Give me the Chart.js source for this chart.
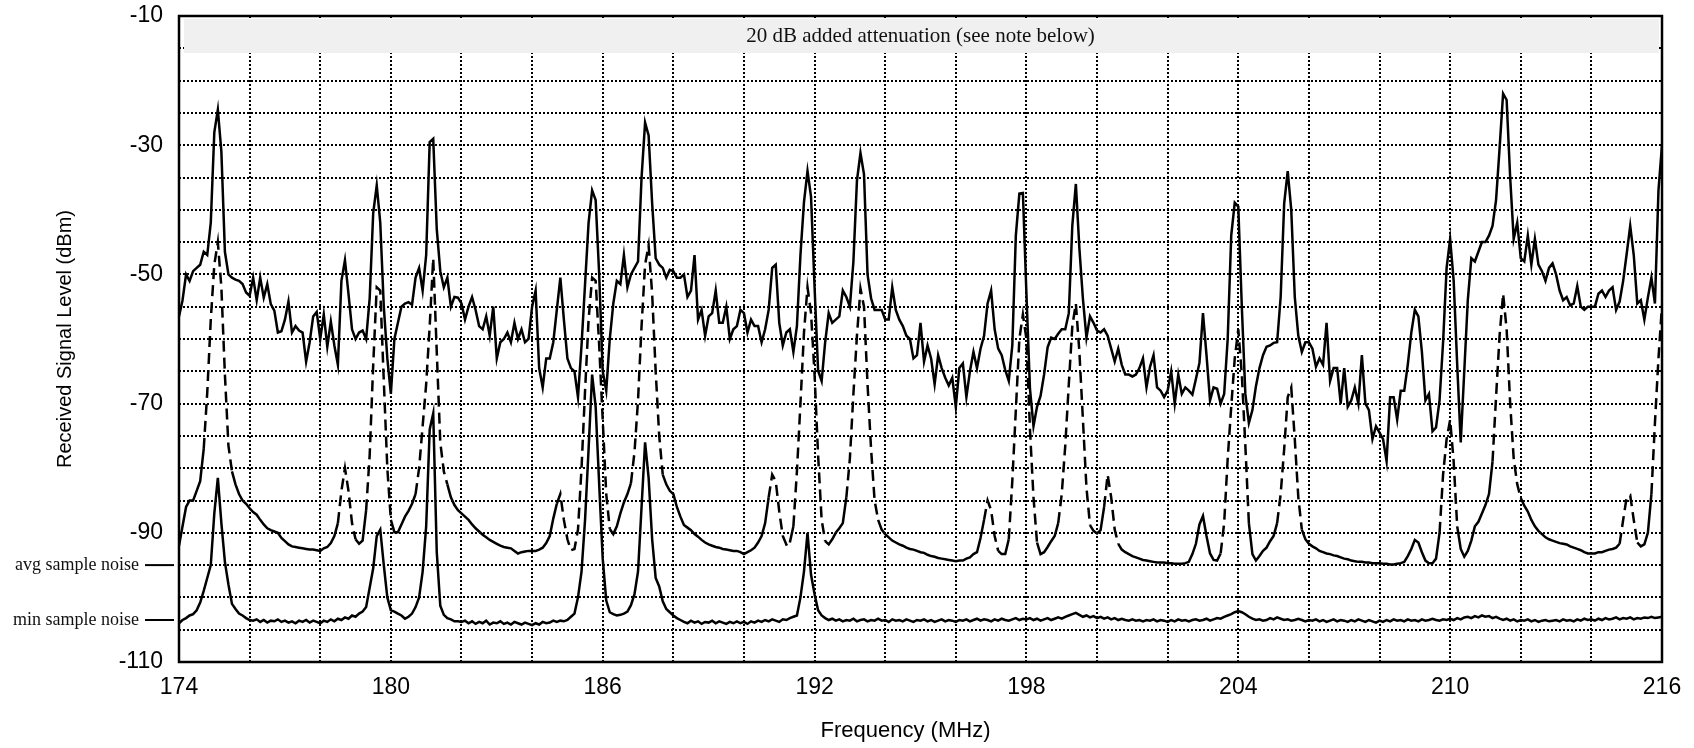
<!DOCTYPE html>
<html>
<head>
<meta charset="utf-8">
<title>Received Signal Level, 174-216 MHz</title>
<script src="https://cdn.jsdelivr.net/npm/chart.js@4.4.1/dist/chart.umd.min.js"></script>
<style>
    html, body { margin: 0; padding: 0; background: #ffffff; }
    canvas { display: block; }
</style>
</head>
<body>
<canvas id="spectrumChart" width="1694" height="748"></canvas>
<script>
/**
 * Sweep 174..216 MHz, one sample every 0.1 MHz (one row = 1 MHz)
 */
const FREQ_START = 174;
const FREQ_STEP = 0.1;

// upper trace (max hold)
const maxLevel = [
    -56.5, -54, -50, -51, -49.5, -49, -48.5, -46.5, -47, -42,
    -28, -24.5, -31, -46.5, -50, -50.5, -50.8, -51, -51.5, -52.8,
    -53.3, -50.5, -54, -50.5, -53.6, -51.5, -54.6, -55.6, -59, -58.8,
    -57, -54.2, -59, -58, -58.7, -59, -63.5, -60.5, -56.5, -55.8,
    -60, -56.2, -61.2, -57.3, -61, -64, -51, -47.8, -53, -58.5,
    -60, -59, -58.7, -60, -53.7, -40.5, -36.2, -42, -55, -63,
    -68.5, -60, -57.5, -55, -54.5, -54.3, -54.7, -50.5, -49, -52.5,
    -47, -29.5, -29, -43, -49.5, -52, -50.5, -55, -53.5, -53.6,
    -54.5, -57, -55, -53.5, -55.5, -58, -58.5, -56.5, -59.5, -55,
    -63, -60.5, -60, -59, -60.5, -57.5, -60, -58.5, -60.5, -60,
    -55, -52.5, -64.5, -67.5, -63, -63, -60.5, -55.5, -50.5, -57,
    -63, -64.5, -65, -69, -61, -51.5, -42, -37, -38.5, -50,
    -65, -68, -60, -54.5, -51, -51.5, -47, -52, -50, -49,
    -48, -35, -26.5, -28.5, -39, -47.5, -48.5, -49, -50.5, -49.3,
    -49.5, -50.5, -50.5, -50, -53.5, -52.5, -47, -57, -55.5, -59.5,
    -56.5, -56, -52.5, -57.5, -57.5, -55, -60, -58.5, -58, -55.5,
    -56, -59, -57, -58, -58, -60.5, -58.5, -55.5, -49, -48.5,
    -57.5, -61, -59, -58.5, -62, -58, -47, -38.8, -34, -38,
    -52, -64.9, -66.5, -60.5, -56, -57.5, -57, -56.5, -52.5, -53.5,
    -55, -48, -35.5, -31.2, -34.5, -50, -53.7, -55.5, -55.5, -55.5,
    -57, -57, -52, -55.5, -57, -58, -59.5, -60, -63, -62.5,
    -57.5, -63.5, -61, -63, -67, -62.5, -64.5, -66, -67.2, -66,
    -70.5, -64.5, -63.8, -69, -65, -62, -64.5, -61.5, -59.5, -54.5,
    -52.5, -58.5, -61.5, -62.5, -64.8, -66.5, -61, -44, -37.5, -37.4,
    -53, -67.7, -73.5, -70.5, -68.8, -65.5, -61.3, -59.8, -60, -59.2,
    -58.5, -58.5, -56, -42.4, -36, -46, -53.8, -59.8, -56.5, -57.5,
    -58.7, -59, -58.5, -59.5, -61.5, -63.5, -61.5, -64, -65.5, -65.5,
    -65.8, -65.5, -64.5, -63, -67.5, -64.3, -62.5, -67.5, -68, -69,
    -68, -65, -70, -65.5, -68.5, -67.5, -68, -68.6, -66.2, -63.7,
    -56, -62.5, -69.5, -67.5, -67.7, -70, -68.5, -60, -44, -38.9,
    -39.5, -55, -68.5, -73, -71, -67.3, -64.5, -62.5, -61.2, -61,
    -60.6, -60.5, -53.5, -39, -34, -40, -53.5, -59.5, -62, -60.5,
    -60.5, -61.5, -64.3, -63, -64, -57.5, -66.5, -64.5, -64.5, -70,
    -64.5, -70.5, -69.5, -67.5, -70, -62.5, -70, -71, -75.5, -73.5,
    -74.5, -75.5, -78.9, -69, -69, -72.5, -68, -68, -64, -59,
    -55.5, -56.5, -62, -69.5, -68.5, -74.3, -73.7, -69.5, -60.5, -49,
    -44.5, -51, -64, -76, -65, -54, -47.5, -48, -46.5, -45,
    -45, -44, -42.5, -38.5, -30.5, -22, -23, -35, -44.5, -42,
    -47.5, -48, -44, -48.5, -44.5, -48.5, -49.5, -51, -49, -48.3,
    -50, -52.5, -54, -53.5, -54.8, -54.5, -51.8, -55, -55.5, -55,
    -55, -55, -53, -52.5, -53.5, -52.5, -52, -55.5, -54.2, -51,
    -46.8, -42.5, -47, -54.5, -54, -57, -53.6, -50.5, -54.5, -37,
    -30
];

// middle trace (average)
const avgLevel = [
    -92, -89, -86, -85, -85, -83.5, -82, -77, -68.3, -57,
    -48.5, -45, -52, -65.5, -76.5, -80.5, -82.5, -84, -85, -85.5,
    -86.2, -86.8, -87.2, -88, -88.7, -89.3, -89.6, -89.8, -90, -90.8,
    -91.3, -91.8, -92.1, -92.2, -92.3, -92.4, -92.5, -92.6, -92.6, -92.7,
    -92.8, -92.4, -92.2, -91.6, -90.5, -88.5, -83.5, -80, -83.5, -88.5,
    -91, -91.7, -91.2, -86.5, -78, -64, -52, -52.5, -66.5, -80,
    -88, -89.9, -89.9, -88.7, -87.5, -86.6, -85.5, -84, -80, -73.5,
    -67, -58, -47.5, -62, -76, -80.5, -82.5, -84.5, -85.7, -86.5,
    -87, -87.5, -88, -88.7, -89.3, -89.8, -90.3, -90.7, -91.1, -91.4,
    -91.7, -92, -92.2, -92.3, -92.4, -92.8, -93.2, -93, -92.9, -92.8,
    -92.8, -92.8, -92.6, -92.3, -91.6, -90.5, -87.8, -85.5, -84, -88,
    -91, -92.7, -92.5, -89.5, -80, -68, -57, -50.5, -51, -61,
    -72.5, -84, -89.4, -90.2, -89, -87, -85.3, -84, -82.3, -77.5,
    -69.5, -58, -48.5, -45.5, -53, -65, -75, -81, -82.5, -83.5,
    -84, -86, -87.5, -88.8, -89.2, -89.6, -90.2, -90.6, -91.1, -91.5,
    -91.8, -92, -92.2, -92.3, -92.5, -92.6, -92.7, -92.8, -92.8, -93,
    -93.3, -93, -92.7, -92.3, -91.5, -90.5, -88.5, -84.5, -81, -82,
    -86.7, -90.5, -91.8, -91.5, -89, -80.5, -70, -59, -52, -56,
    -65.5, -78, -88, -91.3, -91.8, -91, -90, -89.3, -88.5, -84.5,
    -78.5, -68.5, -59.5, -52.2, -55, -67, -77, -85, -88, -89.5,
    -90.2, -90.7, -91.2, -91.5, -91.8, -92, -92.3, -92.5, -92.6, -92.8,
    -93, -93.1, -93.4, -93.6, -93.7, -93.9, -94, -94.1, -94.2, -94.3,
    -94.4, -94.3, -94.3, -94, -93.8, -93.3, -93, -90.8, -88, -85,
    -86.5, -90.5, -92.8, -93.3, -93.3, -91, -82, -71, -60, -56.2,
    -60, -74, -84.5, -91.5, -93.3, -93, -92.2, -91.3, -90.5, -88.5,
    -84, -76.5, -67, -58, -54.5, -62, -72.5, -83, -88.8, -89.7,
    -90.1, -89.6, -86, -81, -84.5, -89.5, -91.7, -92.6, -93, -93.3,
    -93.6, -93.8, -94, -94.2, -94.3, -94.4, -94.5, -94.6, -94.6, -94.6,
    -94.7, -94.7, -94.8, -94.8, -94.8, -94.7, -94.5, -93.3, -91.7, -88.7,
    -87.4, -90.5, -93.2, -94.2, -94.3, -93.2, -88.5, -78.5, -70.5, -63,
    -58.5, -65.5, -76.5, -88.5, -93.3, -94.3, -93.6, -92.8, -92.3, -91.3,
    -90.5, -88.5, -84, -77, -69, -67.5, -75.5, -84.5, -89.5, -91,
    -91.7, -92.1, -92.4, -92.8, -93, -93.2, -93.3, -93.5, -93.6, -93.8,
    -94, -94.1, -94.3, -94.4, -94.5, -94.5, -94.6, -94.6, -94.7, -94.7,
    -94.7, -94.8, -94.8, -94.9, -94.9, -94.8, -94.7, -94.5, -93.6, -92.5,
    -91.1, -91.5, -93, -94.3, -94.7, -94.7, -94, -90, -81, -75.5,
    -72.5, -79, -89, -92.5, -93.7, -92.8, -91.2, -89, -88.3, -87,
    -85.7, -84, -79, -69, -59.5, -53, -58.5, -70, -78.5, -82.5,
    -84.6, -85.8, -86.7, -88, -89, -89.7, -90.2, -90.7, -91, -91.2,
    -91.4, -91.6, -91.7, -91.8, -92.1, -92.3, -92.5, -92.7, -93, -93.2,
    -93.2, -93.2, -93, -93, -92.8, -92.6, -92.5, -92.3, -91.7, -88,
    -84.5, -84.2, -88, -91.5, -92.1, -91.8, -90, -84, -73, -63,
    -54.8
];

// lower trace (minimum)
const minLevel = [
    -104, -103.5, -103.2, -102.8, -102.6, -102, -100.8, -99, -97, -95,
    -87, -81.5, -88.5, -94.5, -98, -101, -101.8, -102.5, -102.8, -103.2,
    -103.5, -103.6, -103.4, -103.8, -103.5, -103.9, -103.6, -103.7, -103.4, -103.8,
    -103.6, -103.9, -103.7, -104, -103.6, -103.8, -103.5, -103.9, -103.6, -103.8,
    -104, -103.6, -103.8, -103.4, -103.7, -103.3, -103.5, -103.1, -103.3, -102.8,
    -103, -102.5, -102.2, -101.5, -98.5, -95.5, -90.5, -89.5, -95, -100,
    -102, -102.2, -102.5, -102.8, -103.3, -103, -102.5, -101.5, -100, -96,
    -89, -74, -71.5, -93, -101.3, -102.7, -103.2, -103.4, -103.7, -103.7,
    -103.8, -103.6, -104, -103.7, -104.1, -103.8, -104, -103.6, -104.2, -103.9,
    -104, -103.7, -104.1, -103.9, -104.2, -103.8, -104, -104.2, -103.9, -104.1,
    -104.3, -104, -104.2, -103.8, -104, -103.9, -103.6, -103.8, -103.6, -103.7,
    -103.5, -103, -102.5, -100, -96, -88, -77, -65.5, -70.5, -82.5,
    -94, -100.5, -102.3, -102.6, -102.8, -102.7, -102.5, -102.2, -101.2, -99.5,
    -96, -86, -76, -81.5, -91, -97, -98.3, -100.6, -101.8, -102.3,
    -102.8, -103.2, -103.5, -103.8, -104, -103.6, -103.9, -103.7, -104.1, -103.8,
    -103.9, -103.6, -104, -103.7, -103.9, -104.1, -103.8, -104, -103.7, -104,
    -103.8, -104.1, -103.7, -103.9, -103.6, -103.8, -103.5, -103.7, -103.4, -103.6,
    -103.8, -103.4, -103.5, -103.2, -103, -102.8, -100, -96, -90, -96.5,
    -99.5, -102, -102.8, -103.2, -103.5, -103.3, -103.6, -103.4, -103.7, -103.5,
    -103.6, -103.3, -103.7, -103.5, -103.4, -103.7, -103.5, -103.6, -103.3, -103.6,
    -103.5, -103.8, -103.4, -103.6, -103.5, -103.7, -103.4, -103.6, -103.8, -103.5,
    -103.6, -103.4, -103.7, -103.5, -103.8, -103.6, -103.4, -103.7, -103.5, -103.6,
    -103.8, -103.5, -103.6, -103.4, -103.7, -103.5, -103.3, -103.6, -103.4, -103.5,
    -103.7, -103.4, -103.6, -103.3, -103.5, -103.6, -103.4, -103.2, -103.5, -103.3,
    -103.4, -103.2, -103.5, -103.3, -103.6, -103.4, -103.2, -103.5, -103.3, -103.1,
    -103.3, -103, -102.8, -102.6, -102.4, -102.7, -103, -102.8, -103.1, -102.9,
    -103.2, -103, -103.3, -103.1, -103.4, -103.2, -103.5, -103.3, -103.5, -103.6,
    -103.4, -103.6, -103.5, -103.7, -103.5, -103.6, -103.4, -103.7, -103.5, -103.6,
    -103.8, -103.5, -103.7, -103.4, -103.6, -103.5, -103.7, -103.5, -103.4, -103.6,
    -103.5, -103.3, -103.6, -103.4, -103.2, -103.3, -103, -102.8, -102.6, -102.3,
    -102.1, -102.3, -102.6, -103, -103.3, -103.5, -103.4, -103.6, -103.5, -103.2,
    -103.4, -103.1, -103.3, -103.5, -103.4, -103.6, -103.5, -103.3, -103.5, -103.7,
    -103.5, -103.6, -103.4, -103.7, -103.5, -103.8, -103.6, -103.4, -103.7, -103.5,
    -103.6, -103.8, -103.5, -103.7, -103.4, -103.6, -103.8, -103.5, -103.7, -103.9,
    -103.6, -103.8, -103.5, -103.7, -103.4, -103.6, -103.5, -103.7, -103.4, -103.6,
    -103.5, -103.7, -103.4, -103.6, -103.5, -103.3, -103.5, -103.6, -103.4, -103.5,
    -103.3, -103.5, -103.2, -103.4, -103.1, -103, -103.2, -102.9, -103.1, -102.8,
    -103, -102.9, -103.2, -103, -103.3, -103.5, -103.3, -103.6, -103.4, -103.7,
    -103.5, -103.6, -103.4, -103.7, -103.5, -103.8, -103.6, -103.5, -103.7, -103.6,
    -103.5, -103.7, -103.4, -103.6, -103.5, -103.7, -103.4, -103.6, -103.3, -103.5,
    -103.4, -103.6, -103.3, -103.5, -103.2, -103.4, -103.3, -103.1, -103.4, -103.2,
    -103.3, -103.1, -103.4, -103.2, -103.3, -103.1, -103.2, -103, -103.2, -103.1,
    -103
];

// frequency ranges (MHz) where the average trace is drawn dashed
const channelSpans = [
    [174.75, 175.45], [178.5, 178.95], [179.3, 180.0], [180.75, 181.55],
    [184.65, 186.15], [186.8, 187.7], [190.7, 191.25], [191.4, 192.25],
    [192.9, 193.75], [196.8, 197.2], [197.5, 198.35], [198.95, 199.75],
    [200.15, 200.55], [203.5, 204.3], [205.1, 205.75], [209.65, 210.2],
    [211.2, 211.95], [214.85, 215.35], [215.65, 216.0]
];

const xTickLabels = [174, 180, 186, 192, 198, 204, 210, 216];
const yTickLabels = [-110, -90, -70, -50, -30, -10];

const noiseMarks = [
    { text: 'avg sample noise', level: -95 },
    { text: 'min sample noise', level: -103.5 }
];
const bannerText = '20 dB added attenuation (see note below)';
const xTitle = 'Frequency (MHz)';

const SANS = '"Liberation Sans", Arial, Helvetica, sans-serif';
const SERIF = '"Liberation Serif", "Times New Roman", serif';

function toPoints(values) {
    return values.map((y, i) => ({ x: +(FREQ_START + i * FREQ_STEP).toFixed(1), y }));
}

function inChannel(ctx) {
    const mid = (ctx.p0.parsed.x + ctx.p1.parsed.x) / 2;
    return channelSpans.some(([a, b]) => mid >= a && mid <= b);
}

// grey note band at the top of the plot
const bannerPlugin = {
    id: 'banner',
    beforeDatasetsDraw(chart) {
        const { ctx, chartArea: a } = chart;
        ctx.save();
        ctx.fillStyle = '#f0f0f0';
        ctx.fillRect(a.left + 5, a.top + 3, a.right - a.left - 8, 34);
        ctx.fillStyle = '#111';
        ctx.font = '21px ' + SERIF;
        ctx.textAlign = 'center';
        ctx.textBaseline = 'middle';
        ctx.fillText(bannerText, (a.left + a.right) / 2, a.top + 20);
        ctx.restore();
    }
};

// solid frame round the plot area, x title
const framePlugin = {
    id: 'frame',
    afterDatasetsDraw(chart) {
        const { ctx, chartArea: a } = chart;
        ctx.save();
        ctx.strokeStyle = '#000';
        ctx.lineWidth = 2.5;
        ctx.strokeRect(a.left, a.top, a.right - a.left, a.bottom - a.top);
        ctx.fillStyle = '#000';
        ctx.font = '22px ' + SANS;
        ctx.textAlign = 'center';
        ctx.textBaseline = 'middle';
        ctx.fillText(xTitle, (a.left + a.right) / 2 - 15, chart.height - 17);
        ctx.restore();
    }
};

// "avg / min sample noise" markers left of the y axis
const noiseMarkPlugin = {
    id: 'noiseMarks',
    afterDraw(chart) {
        const { ctx, chartArea: a, scales } = chart;
        ctx.save();
        ctx.fillStyle = '#111';
        ctx.strokeStyle = '#000';
        ctx.lineWidth = 2;
        ctx.font = '18px ' + SERIF;
        ctx.textAlign = 'right';
        ctx.textBaseline = 'middle';
        noiseMarks.forEach(m => {
            const y = scales.y.getPixelForValue(m.level);
            ctx.fillText(m.text, a.left - 40, y);
            ctx.beginPath();
            ctx.moveTo(a.left - 34, y);
            ctx.lineTo(a.left - 5, y);
            ctx.stroke();
        });
        ctx.restore();
    }
};

const lineStyle = {
    borderColor: '#000',
    borderWidth: 2.5,
    pointRadius: 0,
    tension: 0,
    fill: false
};

const gridStyle = {
    color: '#000',
    lineWidth: 2,
    drawTicks: false
};

new Chart(document.getElementById('spectrumChart'), {
    type: 'line',
    data: {
        datasets: [
            { label: 'max', data: toPoints(maxLevel), ...lineStyle },
            {
                label: 'avg',
                data: toPoints(avgLevel),
                ...lineStyle,
                segment: { borderDash: ctx => inChannel(ctx) ? [11, 6] : [] }
            },
            { label: 'min', data: toPoints(minLevel), ...lineStyle }
        ]
    },
    options: {
        responsive: false,
        animation: false,
        layout: { padding: { left: 0, right: 32, top: 16, bottom: 0 } },
        plugins: {
            legend: { display: false },
            tooltip: { enabled: false }
        },
        scales: {
            x: {
                type: 'linear',
                min: 174,
                max: 216,
                grid: gridStyle,
                border: { display: false, dash: [2, 2] },
                ticks: {
                    stepSize: 2,
                    autoSkip: false,
                    maxRotation: 0,
                    padding: 12,
                    color: '#000',
                    font: { family: SANS, size: 23 },
                    callback: v => xTickLabels.includes(Math.round(v)) ? String(Math.round(v)) : ''
                },
                afterFit: s => {
                    s.height = 86;
                    s.paddingLeft = 0;
                    s.paddingRight = 0;
                }
            },
            y: {
                min: -110,
                max: -10,
                grid: gridStyle,
                border: { display: false, dash: [2, 2] },
                ticks: {
                    stepSize: 5,
                    autoSkip: false,
                    padding: 16,
                    color: '#000',
                    font: { family: SANS, size: 23 },
                    callback: v => yTickLabels.includes(Math.round(v)) ? String(Math.round(v)) : ''
                },
                title: {
                    display: true,
                    text: 'Received Signal Level (dBm)',
                    color: '#000',
                    font: { family: SANS, size: 20 },
                    padding: { top: 53, bottom: 0 }
                },
                afterFit: s => {
                    s.width = 179;
                    s.paddingTop = 0;
                    s.paddingBottom = 0;
                }
            }
        }
    },
    plugins: [bannerPlugin, framePlugin, noiseMarkPlugin]
});
</script>
</body>
</html>
